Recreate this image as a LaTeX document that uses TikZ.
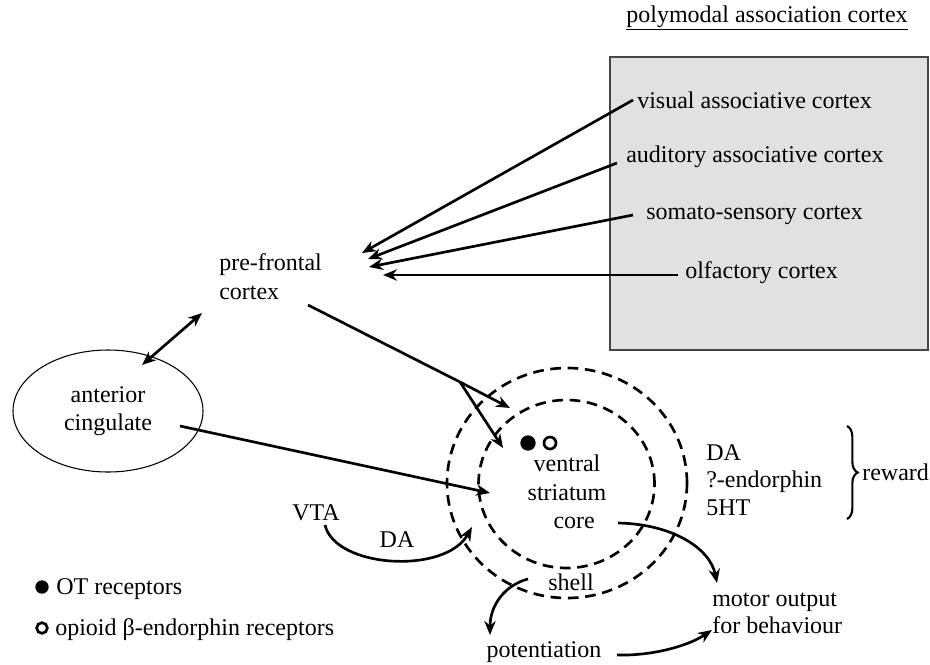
\documentclass[tikz,border=0pt]{standalone}
\usepackage{fontspec}
\setmainfont{Liberation Serif}
\usetikzlibrary{arrows.meta,decorations.pathreplacing,shapes.geometric}
\begin{document}
\begin{tikzpicture}[x=0.75pt,y=-0.75pt,
  txt/.style={font=\fontsize{18}{21.75}\selectfont, inner sep=0pt, align=left},
  ctxt/.style={font=\fontsize{18}{21.5}\selectfont, inner sep=0pt, align=center},
  arr/.style={line width=2pt, -{Stealth[length=10.5pt,width=8.5pt]}},
  plainline/.style={line width=2pt},
  dring/.style={draw, ellipse, line width=2pt, dash pattern=on 8pt off 5pt, inner sep=0pt},
  fdot/.style={circle, fill=black, inner sep=0pt},
  odot/.style={circle, draw=black, line width=2pt, fill=white, inner sep=0pt}
]
\useasboundingbox (0,0) rectangle (930,664);

% title and box
\node[txt, anchor=center] (title) at (767,18) {\underline{polymodal association cortex}};
\node[draw={rgb,255:red,70;green,70;blue,70}, line width=0.9pt, fill={rgb,255:red,225;green,225;blue,225},
      minimum width=238.5pt, minimum height=219.75pt, inner sep=0pt] (polybox) at (769,203.5) {};

\node[txt, anchor=west] (vis) at (637,100) {visual associative cortex};
\node[txt, anchor=west] (aud) at (626,157) {auditory associative cortex};
\node[txt, anchor=west] (som) at (646,215) {somato-sensory cortex};
\node[txt, anchor=west] (olf) at (685,273) {olfactory cortex};

% pre-frontal
\node[txt, anchor=west] (pfc) at (219,277) {pre-frontal\\cortex};

% arrows into pre-frontal
\coordinate (visS) at (633,100);
\coordinate (audS) at (617,163);
\coordinate (somS) at (633,215);
\coordinate (olfS) at (678,275);
\coordinate (visE) at (362,253);
\coordinate (audE) at (368,259);
\coordinate (somE) at (369,267);
\coordinate (olfE) at (383,275);
\draw[arr] (visS) -- (visE);
\draw[arr] (audS) -- (audE);
\draw[arr] (somS) -- (somE);
\draw[arr] (olfS) -- (olfE);

% anterior cingulate
\node[draw, ellipse, line width=0.8pt, minimum width=142.5pt, minimum height=91.5pt,
      inner sep=0pt, ctxt] (acc) at (108,411) {anterior\\cingulate};
\coordinate (dblA) at (202,313);
\coordinate (dblB) at (142,365);
\draw[line width=2pt, {Stealth[length=10.5pt,width=8.5pt]}-{Stealth[length=10.5pt,width=8.5pt]}] (dblB) -- (dblA);

% ventral striatum rings
\node[dring, minimum width=180pt, minimum height=172.5pt] (outer) at (567,483) {};
\node[dring, minimum width=132pt, minimum height=126pt] (inner) at (566.5,484) {};
\node[ctxt, font=\fontsize{18}{21.4}\selectfont] (vs) at (567,492) {ventral\\striatum\\\hspace*{0.6em}core};
\node[fdot, minimum size=11.5pt] (otdot) at (528,443) {};
\node[odot, minimum size=9pt] (opdot) at (550,443) {};
\node[ctxt] (shell) at (571,582) {shell};

% pre-frontal to striatum
\coordinate (pfout) at (308,305);
\coordinate (split) at (460,382);
\coordinate (tipA) at (510,408);
\coordinate (tipB) at (503,448);
\draw[plainline] (pfout) -- (split);
\draw[arr] (split) -- (tipA);
\draw[arr] (split) -- (tipB);

% anterior cingulate to striatum
\coordinate (accout) at (180,426);
\coordinate (acctip) at (490,493);
\draw[arr] (accout) -- (acctip);

% VTA
\node[ctxt] (vta) at (316,513) {VTA};
\node[ctxt] (da) at (397,540) {DA};
\coordinate (vtaS) at (325,525);
\coordinate (vtaE) at (472,527);
\draw[arr] (vtaS) .. controls (335,568) and (445,575) .. (vtaE);

% right labels
\node[txt, anchor=west, font=\fontsize{18}{20.6}\selectfont] (chem) at (706,480) {DA\\?-endorphin\\5HT};
\draw[decorate, decoration={brace, amplitude=8pt}, line width=1.6pt] (847,426) -- (847,519);
\node[txt, anchor=west] (reward) at (862,472) {reward};

% outputs
\node[txt, anchor=west, font=\fontsize{18}{20.25}\selectfont] (motor) at (712,613) {motor output\\for behaviour};
\node[ctxt] (pot) at (544,652) {potentiation};
\coordinate (coreS) at (618,523);
\coordinate (motorT) at (717,583);
\draw[arr] (coreS) .. controls (672,524) and (710,548) .. (motorT);
\coordinate (shellS) at (528,579);
\coordinate (potT) at (490,635);
\draw[arr] (shellS) .. controls (505,585) and (490,605) .. (potT);
\coordinate (potS) at (617,655);
\coordinate (motorB) at (712,630);
\draw[arr] (potS) .. controls (652,656) and (688,646) .. (motorB);

% legend
\node[fdot, minimum size=10pt] (legF) at (42,587) {};
\node[txt, anchor=west] (legFt) at (56,589) {OT receptors};
\node[odot, minimum size=8pt] (legO) at (42,628) {};
\node[txt, anchor=west] (legOt) at (55,630) {opioid β-endorphin receptors};
\end{tikzpicture}
\end{document}
